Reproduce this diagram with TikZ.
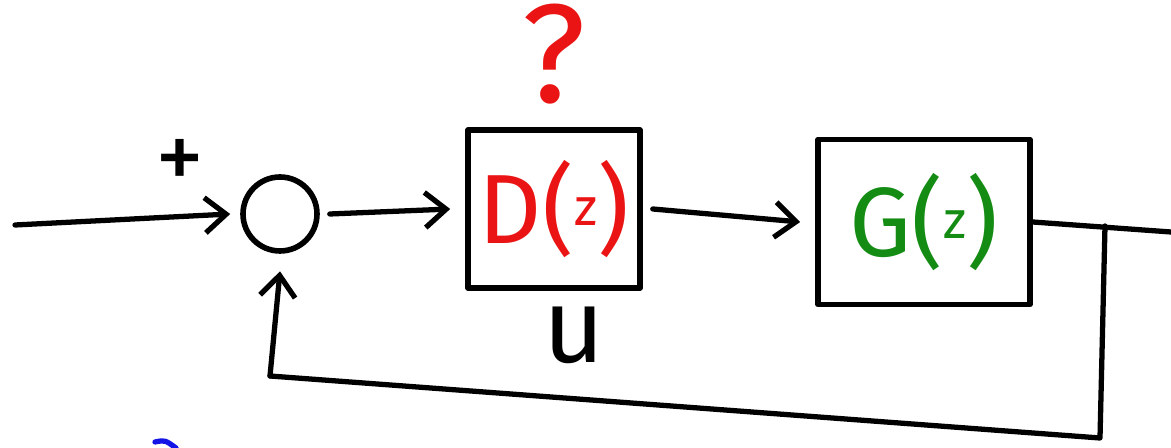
\documentclass[tikz,border=0pt]{standalone}
\usepackage{fontspec}
\setmainfont{Fira Sans}
\usepackage{xcolor}
\usetikzlibrary{arrows.meta,positioning,calc}

\definecolor{dred}{RGB}{235,20,20}
\definecolor{ggreen}{RGB}{20,140,20}
\definecolor{pblue}{RGB}{20,20,230}

\newcommand{\zarg}{\raisebox{0.35ex}{\fontsize{30}{32}\selectfont z}}

\begin{document}
\begin{tikzpicture}[
    x=0.02cm, y=-0.02cm,
    line width=3pt, line cap=round, line join=round,
    wire/.style={line width=3pt},
    arr/.style={wire, -{Straight Barb[length=12pt, width=20pt, line width=3pt]}},
    blockbox/.style={rectangle, draw, line width=3.2pt, inner sep=0pt},
    sumnode/.style={circle, draw, line width=3.2pt, minimum size=1.48cm, inner sep=0pt}
]
    \useasboundingbox (0,0) rectangle (1171,448);

    % Blocks
    \node[sumnode] (sum) at (280,214) {};
    \node[blockbox, minimum width=3.44cm, minimum height=3.16cm] (D) at (554,209)
        {\fontsize{56}{60}\selectfont\color{dred}D(\zarg)};
    \node[blockbox, minimum width=4.24cm, minimum height=3.3cm] (G) at (924,222)
        {\fontsize{56}{60}\selectfont\color{ggreen}G(\zarg)};

    % Labels
    \node[above=0.3cm of D, text=dred, font=\fontsize{80}{84}\selectfont] (qmark) {?};
    \node[below=0.15cm of D.south, xshift=0.4cm, font=\fontsize{60}{64}\selectfont] (uin) {u};
    \node[font=\fontsize{56}{60}\selectfont] (plus) at (180,165) {+};

    % Coordinates of the loop
    \coordinate (in) at (15,225);
    \coordinate (out) at (1171,232);
    \coordinate (tap) at (1105,226);
    \coordinate (br) at (1100,438);
    \coordinate (bl) at (270,376);

    % Forward path
    \draw[arr] (in) -- ([xshift=-0.2cm]sum.west);
    \draw[arr] ([xshift=0.2cm]sum.east) -- ([xshift=-0.3cm]D.west);
    \draw[arr] ([xshift=0.2cm]D.east) -- ([xshift=-0.3cm]G.west);
    \draw[wire] (G.east) -- (out);

    % Feedback path
    \draw[wire] (tap) -- (br) -- (bl);
    \draw[arr] (bl) -- ([yshift=-0.35cm]sum.south);

    % blue stroke at the edge
    \draw[pblue, line width=3pt] (155,442) .. controls (165,440) .. (176,448);
\end{tikzpicture}
\end{document}
